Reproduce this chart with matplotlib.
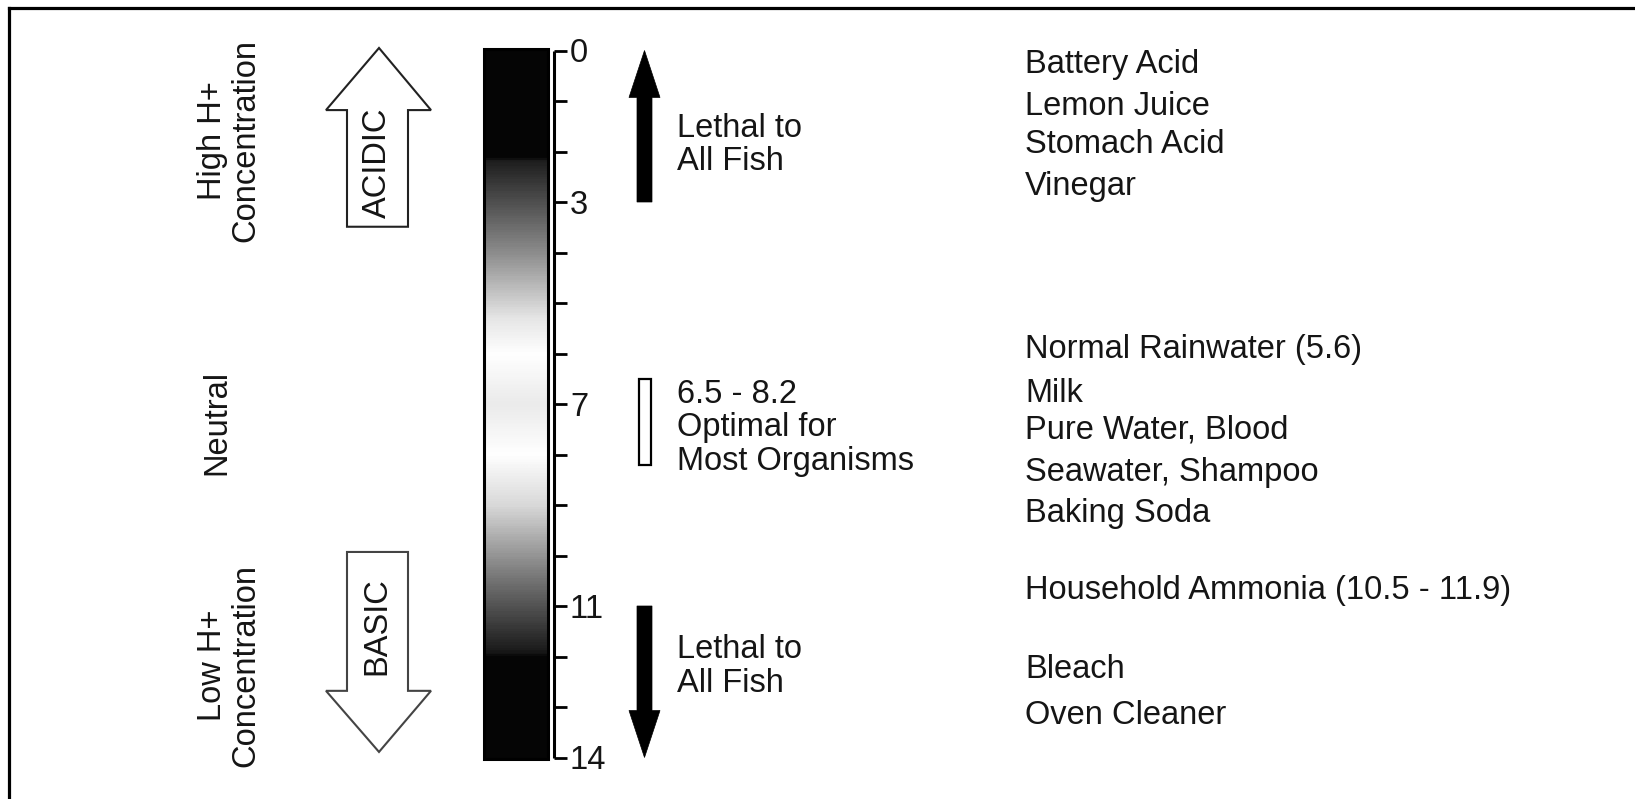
import numpy as np
import matplotlib.pyplot as plt
from matplotlib.colors import LinearSegmentedColormap
from matplotlib.patches import Polygon, Rectangle
from matplotlib.lines import Line2D

plt.rcParams['font.family'] = ['Liberation Sans', 'DejaVu Sans']
FS = 23.5
LS = 1.1
TXT = '#151515'
DY = 0.066   # ajuste vertical del texto (centro de mayusculas)

# escala de pH
ph_ticks = np.arange(0, 15)
ph_labels = [0, 3, 7, 11, 14]

# sustancias y su posicion en la escala
substances = ['Battery Acid', 'Lemon Juice', 'Stomach Acid', 'Vinegar',
              'Normal Rainwater (5.6)', 'Milk', 'Pure Water, Blood',
              'Seawater, Shampoo', 'Baking Soda',
              'Household Ammonia (10.5 - 11.9)', 'Bleach', 'Oven Cleaner']
substance_ph = [0.22, 1.05, 1.8, 2.62, 5.85, 6.72, 7.45, 8.3, 9.1, 10.62, 12.2, 13.1]

# rangos letales y optimo
lethal_acid = (3, 0)
lethal_base = (11, 14)
optimal = (6.5, 8.2)

# degradado de la barra (pH, nivel de gris)
grad_ph = [0, 2.1, 2.2, 4.0, 5.3, 6.0, 7.0, 8.0, 9.0, 10.5, 11.9, 12.0, 14]
grad_gray = [0.02, 0.02, 0.12, 0.55, 0.9, 1.0, 0.92, 1.0, 0.85, 0.45, 0.1, 0.02, 0.02]

W, H = 1635, 799
fig = plt.figure(figsize=(W / 100, H / 100), dpi=100)
ax = fig.add_axes([0, 0, 1, 1])
ax.set_xlim(0, W)
# 1 unidad de pH = 50.5 px, pH 0 en y = 50.5 px
ax.set_ylim((H - 50.5) / 50.5, -1.0)
ax.axis('off')

# marco
fig.add_artist(Line2D([8.7 / W, 8.7 / W], [1 - 7.5 / H, 0], color='k', lw=2.3,
                      transform=fig.transFigure, solid_capstyle='projecting'))
fig.add_artist(Line2D([8.7 / W, 1], [1 - 7.5 / H, 1 - 7.5 / H], color='k', lw=2.3,
                      transform=fig.transFigure, solid_capstyle='projecting'))

# barra con degradado
cmap = LinearSegmentedColormap.from_list(
    'ph', [(p / 14, (g, g, g)) for p, g in zip(grad_ph, grad_gray)])
vals = np.linspace(0, 1, 600).reshape(-1, 1)
ax.imshow(vals, cmap=cmap, origin='lower', extent=[483, 548, -0.02, 14.02],
          aspect='auto', zorder=1)
ax.add_patch(Rectangle((483.5, -0.02), 64, 14.04, fill=False, ec='k', lw=2.2, zorder=2))

# eje y marcas
ax.vlines(553.5, ph_ticks[0], ph_ticks[-1], color='k', lw=2.2)
ax.hlines(ph_ticks, 553.5, 567, color='k', lw=2.0)
for p in ph_labels:
    ax.text(570, p + DY, str(p), fontsize=FS, ha='left', va='center', color=TXT)

# flechas huecas ACIDIC / BASIC
acid = [(379, -0.05), (431, 1.18), (408, 1.18), (408, 3.49), (347, 3.49),
        (347, 1.18), (326, 1.18)]
ax.add_patch(Polygon(acid, closed=True, fc='white', ec='#222', lw=1.5, joinstyle='miter'))
base = [(379, 13.89), (431, 12.68), (408, 12.68), (408, 9.93), (347, 9.93),
        (347, 12.68), (326, 12.68)]
ax.add_patch(Polygon(base, closed=True, fc='white', ec='#444', lw=1.5, joinstyle='miter'))
ax.text(377, 2.23, 'ACIDIC', fontsize=FS, rotation=90, ha='center', va='center', color=TXT)
ax.text(377, 11.4, 'BASIC', fontsize=FS, rotation=90, ha='center', va='center', color=TXT)

# textos de la izquierda
ax.text(229, 1.79, 'High H+\nConcentration', fontsize=FS, rotation=90, linespacing=LS,
        ha='center', va='center', multialignment='center', color=TXT)
ax.text(217, 7.37, 'Neutral', fontsize=FS, rotation=90, ha='center', va='center', color=TXT)
ax.text(229, 12.17, 'Low H+\nConcentration', fontsize=FS, rotation=90, linespacing=LS,
        ha='center', va='center', multialignment='center', color=TXT)

# flechas negras letales
def black_arrow(start, end, head=0.93):
    s = 1 if end > start else -1
    hb = end - s * head
    pts = [(644.5, end), (660, hb), (652, hb), (652, start), (637, start),
           (637, hb), (629, hb)]
    ax.add_patch(Polygon(pts, closed=True, fc='k', ec='k', lw=0.5))

black_arrow(*lethal_acid)
black_arrow(*lethal_base)
ax.text(677, 1.8 + DY, 'Lethal to\nAll Fish', fontsize=FS, linespacing=LS,
        ha='left', va='center', color=TXT)
ax.text(677, 12.15 + 0.05, 'Lethal to\nAll Fish', fontsize=FS, linespacing=LS,
        ha='left', va='center', color=TXT)

# rango optimo
ax.add_patch(Rectangle((638.5, optimal[0]), 12, optimal[1] - optimal[0],
                       fc='white', ec='k', lw=1.6))
ax.text(677, 7.47, '%.1f - %.1f\nOptimal for\nMost Organisms' % optimal,
        fontsize=FS, linespacing=LS, ha='left', va='center', color=TXT)

# sustancias
for name, p in zip(substances, substance_ph):
    ax.text(1025, p + DY, name, fontsize=FS, ha='left', va='center', color=TXT)

fig.savefig('out.png', dpi=100, facecolor='white')
